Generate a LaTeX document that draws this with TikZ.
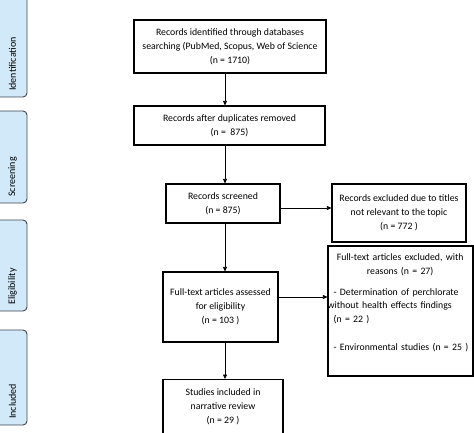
\documentclass[tikz,border=0pt]{standalone}
\usepackage{fontspec}
\setmainfont{Carlito}
\usetikzlibrary{arrows.meta}
\definecolor{tabfill}{HTML}{D2E9FA}
\definecolor{tabline}{HTML}{3E4650}
\definecolor{txt}{HTML}{000000}
\tikzset{
  box/.style={draw=black, line width=1.1pt, inner sep=0pt, align=center, text=txt,
    font=\fontsize{9.8}{14}\selectfont},
  tab/.style={draw=tabline, fill=tabfill, line width=0.9pt, rounded corners=4pt},
  tablabel/.style={rotate=90, anchor=west, inner sep=0pt, text=txt,
    font=\fontsize{10}{12}\selectfont},
  arr/.style={-{Triangle[length=4.5pt,width=4pt]}, line width=0.7pt, black},
}
\begin{document}
\begin{tikzpicture}[x=1pt,y=-1pt]
\useasboundingbox (0,0) rectangle (474,433);
% phase tabs
\draw[tab] (-6,-6) rectangle (27,97);
\node[tablabel] (t1) at (12.5,91) {Identification};
\draw[tab] (-6,111) rectangle (27,203);
\node[tablabel] (t2) at (12.5,197) {Screening};
\draw[tab] (-6,220) rectangle (27,311);
\node[tablabel] (t3) at (12.5,305) {Eligibility};
\draw[tab] (-6,330) rectangle (27,425);
\node[tablabel] (t4) at (12.5,419) {Included};
% boxes
\node[box, minimum width=192pt, minimum height=53pt] (b1) at (230,46.5)
  {Records identified through databases\\searching (PubMed, Scopus, Web of Science\\(n = 1710)};
\node[box, minimum width=191pt, minimum height=39pt] (b2) at (229.5,125.5)
  {Records after duplicates removed\\(n =\ \ 875)};
\node[box, minimum width=114pt, minimum height=39pt] (b3) at (223,203.5)
  {Records screened\\(n = 875)};
\node[box, minimum width=134pt, minimum height=58pt] (e1) at (399,213)
  {Records excluded due to titles\\not relevant to the topic\\(n = 772 )};
\node[box, minimum width=115pt, minimum height=70pt] (b4) at (220.5,307)
  {Full-text articles assessed\\for eligibility\\(n = 103 )};
\node[box, minimum width=145pt, minimum height=130pt] (e2) at (400.5,311) {};
\node[anchor=north west, inner sep=0pt, text width=145pt, text=txt,
  font=\fontsize{9.8}{13.8}\selectfont] (e2t) at ([yshift=-8pt]e2.north west)
  {{\centering Full-text articles excluded, with\\reasons (n = 27)\par}
   \vspace{7pt}
   {\raggedright\hspace*{6pt}- Determination of perchlorate\\without health effects findings\\\hspace*{6pt}(n = 22 )\\[13.8pt]\hspace*{6pt}- Environmental studies (n = 25 )\par}};
\node[box, minimum width=120pt, minimum height=80pt, anchor=north] (b5) at (223,379)
  {};
\node[anchor=north, inner sep=0pt, align=center, text=txt,
  font=\fontsize{9.8}{14}\selectfont] (b5t) at ([yshift=-9pt]b5.north)
  {Studies included in\\narrative review\\(n = 29 )};
% connectors
\coordinate (col) at (225,0);
\draw[arr] (b1.south -| col) -- (b2.north -| col);
\draw[arr] (b2.south -| col) -- (b3.north -| col);
\draw[arr] (b3.south -| col) -- (b4.north -| col);
\draw[arr] (b4.south -| col) -- (b5.north -| col);
\coordinate (r1) at (0,208);
\coordinate (r2) at (0,297);
\draw[arr] (b3.east |- r1) -- (e1.west |- r1);
\draw[arr] (b4.east |- r2) -- (e2.west |- r2);
\end{tikzpicture}
\end{document}
